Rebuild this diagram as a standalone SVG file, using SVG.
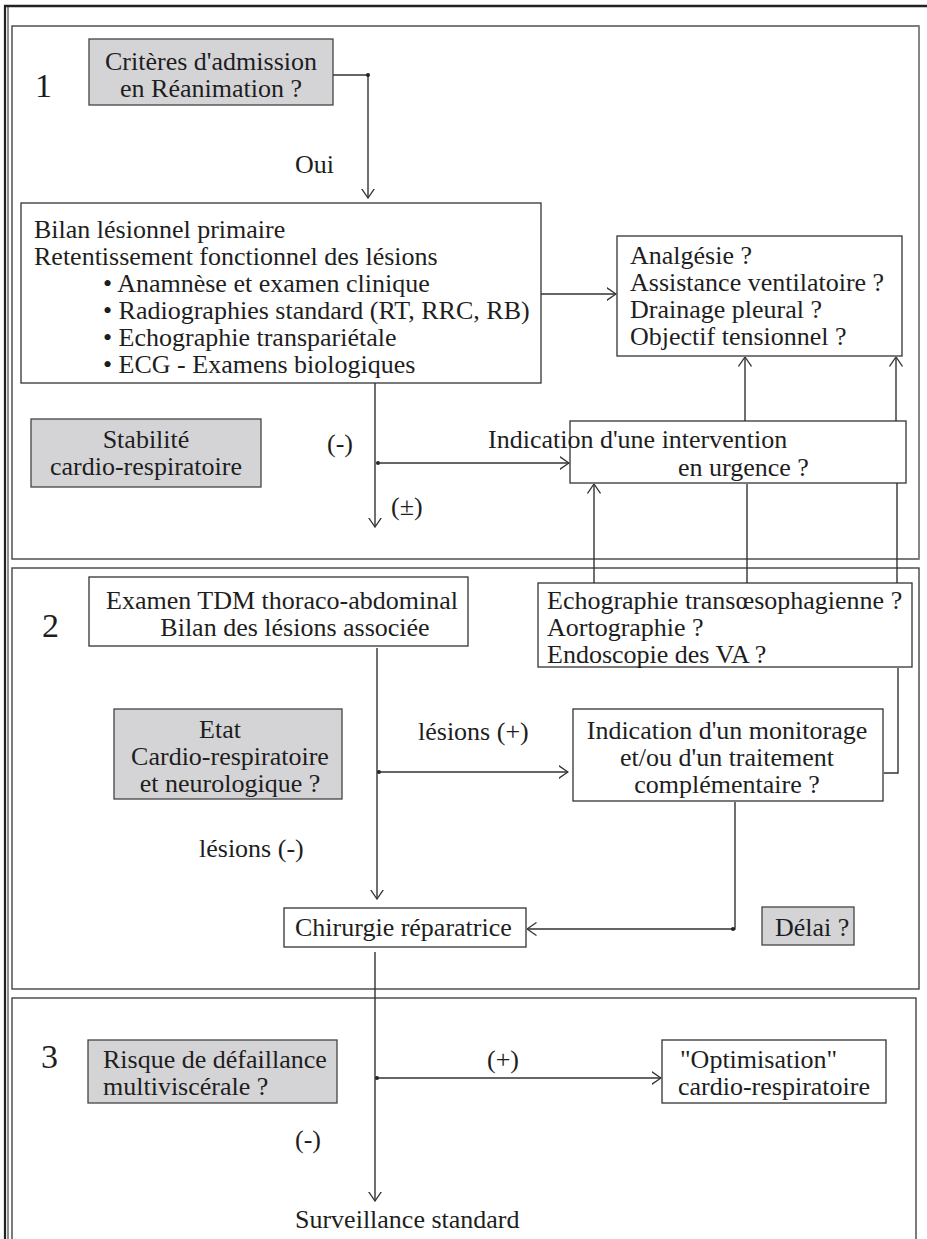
<svg xmlns="http://www.w3.org/2000/svg" width="927" height="1239" viewBox="0 0 927 1239">
<style>
text{font-family:"Liberation Serif","Times New Roman",serif;font-size:26px;fill:#1e1e1e}
.num{font-size:34px}
.c{text-anchor:middle}
.box{fill:#fff;stroke:#333;stroke-width:1.3}
.gray{fill:#d4d4d6;stroke:#444;stroke-width:1.3}
.sec{fill:none;stroke:#444;stroke-width:1.4}
.ln{fill:none;stroke:#333;stroke-width:1.4}
.dot{fill:#222}
</style>
<defs>
<marker id="arr" viewBox="0 0 10 14" refX="9.5" refY="7" markerWidth="10" markerHeight="14" markerUnits="userSpaceOnUse" orient="auto">
<path d="M0,0.5 L9.5,7 L0,13.5" fill="none" stroke="#333" stroke-width="1.3"/>
</marker>
</defs>
<rect width="927" height="1239" fill="#fff"/>
<g id="frame">
<line x1="4" y1="6" x2="927" y2="6" stroke="#222" stroke-width="2.6"/>
<line x1="5" y1="5" x2="5" y2="1239" stroke="#222" stroke-width="2.2"/>
<line x1="8" y1="6" x2="8" y2="1239" stroke="#222" stroke-width="1"/>
</g>
<g id="sections">
<rect class="sec" x="12" y="26" width="907" height="533"/>
<line x1="919" y1="26" x2="919" y2="559" stroke="#888" stroke-width="1.8"/>
<rect class="sec" x="12" y="568" width="907" height="421"/>
<rect class="sec" x="12" y="998" width="904" height="270"/>
<text class="num" x="35" y="97">1</text>
<text class="num" x="42" y="637">2</text>
<text class="num" x="41" y="1068">3</text>
</g>
<g id="connectors">
<path class="ln" d="M333,75 H368 V198" marker-end="url(#arr)"/>
<circle class="dot" cx="368" cy="75" r="2"/>
<path class="ln" d="M541,294 H616" marker-end="url(#arr)"/>
<path class="ln" d="M375,383 V527" marker-end="url(#arr)"/>
<circle class="dot" cx="378" cy="463" r="2"/>
<path class="ln" d="M378,463 H569" marker-end="url(#arr)"/>
<path class="ln" d="M745,421 V357" marker-end="url(#arr)"/>
<path class="ln" d="M897,583 V483"/>
<path class="ln" d="M896,458 V357" marker-end="url(#arr)"/>
<path class="ln" d="M594,583 V484" marker-end="url(#arr)"/>
<path class="ln" d="M747,583 V484"/>
<path class="ln" d="M898,668 V773 H884"/>
<path class="ln" d="M377,648 V899" marker-end="url(#arr)"/>
<circle class="dot" cx="379" cy="772" r="2"/>
<path class="ln" d="M379,772 H568" marker-end="url(#arr)"/>
<path class="ln" d="M735,802 V929 H527" marker-end="url(#arr)"/>
<circle class="dot" cx="733" cy="929" r="2"/>
<path class="ln" d="M375,952 V1201" marker-end="url(#arr)"/>
<circle class="dot" cx="377" cy="1078" r="2"/>
<path class="ln" d="M377,1078 H661" marker-end="url(#arr)"/>
<text x="295" y="173">Oui</text>
<text x="327" y="452">(-)</text>
<text x="391" y="515">(±)</text>
<text x="418" y="740">lésions (+)</text>
<text x="199" y="857">lésions (-)</text>
<text x="487" y="1068">(+)</text>
<text x="295" y="1148">(-)</text>
</g>
<g id="n-criteres">
<rect class="gray" x="89" y="39" width="244" height="66"/>
<text class="c" x="211" y="70">Critères d'admission</text>
<text class="c" x="211" y="97">en Réanimation ?</text>
</g>
<g id="n-bilan">
<rect class="box" x="21" y="203" width="520" height="180"/>
<text x="34" y="238">Bilan lésionnel primaire</text>
<text x="34" y="265">Retentissement fonctionnel des lésions</text>
<text x="103" y="292">• Anamnèse et examen clinique</text>
<text x="103" y="319">• Radiographies standard (RT, RRC, RB)</text>
<text x="103" y="346">• Echographie transpariétale</text>
<text x="103" y="373">• ECG - Examens biologiques</text>
</g>
<g id="n-analgesie">
<rect class="box" x="617" y="236" width="285" height="120"/>
<text x="630" y="264">Analgésie ?</text>
<text x="630" y="291">Assistance ventilatoire ?</text>
<text x="630" y="318">Drainage pleural ?</text>
<text x="630" y="345">Objectif tensionnel ?</text>
</g>
<g id="n-stabilite">
<rect class="gray" x="31" y="419" width="230" height="68"/>
<text class="c" x="146" y="448">Stabilité</text>
<text class="c" x="146" y="475">cardio-respiratoire</text>
</g>
<g id="n-indication">
<rect class="box" x="570" y="421" width="336" height="62"/>
<text x="488" y="448">Indication d'une intervention</text>
<text x="678" y="476">en urgence ?</text>
</g>
<g id="n-tdm">
<rect class="box" x="89" y="577" width="379" height="69"/>
<text class="c" x="282" y="609">Examen TDM thoraco-abdominal</text>
<text class="c" x="295" y="636">Bilan des lésions associée</text>
</g>
<g id="n-echo">
<rect class="box" x="538" y="583" width="374" height="84"/>
<text x="547" y="609">Echographie transœsophagienne ?</text>
<text x="547" y="636">Aortographie ?</text>
<text x="547" y="663">Endoscopie des VA ?</text>
</g>
<g id="n-etat">
<rect class="gray" x="114" y="709" width="228" height="90"/>
<text class="c" x="220" y="738">Etat</text>
<text class="c" x="230" y="765">Cardio-respiratoire</text>
<text class="c" x="230" y="792">et neurologique ?</text>
</g>
<g id="n-monitorage">
<rect class="box" x="573" y="709" width="310" height="92"/>
<text class="c" x="727" y="739">Indication d'un monitorage</text>
<text class="c" x="727" y="766">et/ou d'un traitement</text>
<text class="c" x="727" y="793">complémentaire ?</text>
</g>
<g id="n-chirurgie">
<rect class="box" x="284" y="908" width="242" height="39"/>
<text x="295" y="936">Chirurgie réparatrice</text>
</g>
<g id="n-delai">
<rect class="gray" x="762" y="907" width="92" height="38"/>
<text x="775" y="936">Délai ?</text>
</g>
<g id="n-risque">
<rect class="gray" x="88" y="1040" width="249" height="63"/>
<text x="103" y="1068">Risque de défaillance</text>
<text x="103" y="1095">multiviscérale ?</text>
</g>
<g id="n-optimisation">
<rect class="box" x="662" y="1040" width="224" height="63"/>
<text x="680" y="1068">"Optimisation"</text>
<text x="678" y="1095">cardio-respiratoire</text>
</g>
<g id="n-surveillance">
<text x="295" y="1228">Surveillance standard</text>
</g>
</svg>
